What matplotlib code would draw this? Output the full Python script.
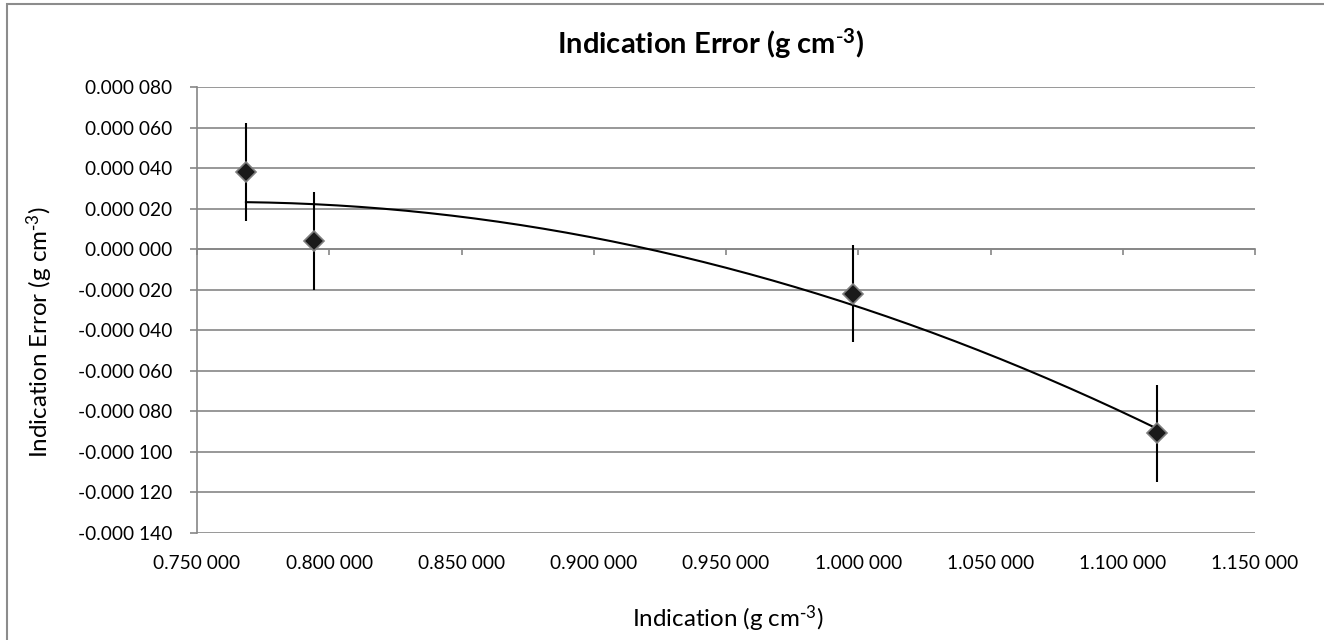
import numpy as np
import matplotlib
matplotlib.use("Agg")
import matplotlib.pyplot as plt
from matplotlib.patches import Rectangle

plt.rcParams['font.family'] = ['Lato', 'DejaVu Sans']
plt.rcParams['mathtext.default'] = 'regular'

# Data
indication = [0.7685, 0.7942, 0.9979, 1.1128]
ind_error = [0.0000382, 0.0000041, -0.0000219, -0.0000909]
uncert = [0.000024, 0.000024, 0.000024, 0.000024]

x_ticks = [0.75, 0.80, 0.85, 0.90, 0.95, 1.00, 1.05, 1.10, 1.15]
x_ticklabels = ['0.750 000', '0.800 000', '0.850 000', '0.900 000', '0.950 000',
                '1.000 000', '1.050 000', '1.100 000', '1.150 000']
y_ticks = [0.00008, 0.00006, 0.00004, 0.00002, 0.0, -0.00002, -0.00004,
           -0.00006, -0.00008, -0.0001, -0.00012, -0.00014]
y_ticklabels = ['0.000 080', '0.000 060', '0.000 040', '0.000 020', '0.000 000',
                '-0.000 020', '-0.000 040', '-0.000 060', '-0.000 080',
                '-0.000 100', '-0.000 120', '-0.000 140']

W, H = 1324, 640
fig = plt.figure(figsize=(W / 100, H / 100), dpi=100)
fig.patch.set_facecolor('white')

# chart border (left/top visible)
fig.patches.append(Rectangle((7 / W, -0.05), 1.2, (H - 4) / H + 0.05,
                             transform=fig.transFigure, fill=False,
                             edgecolor='#8c8c8c', linewidth=1.5))

left, right, top, bottom = 197, 1255, 87.3, 532.7
ax = fig.add_axes([left / W, 1 - bottom / H, (right - left) / W, (bottom - top) / H])

grid_c = '#868686'
ax.set_xlim(0.75, 1.15)
ax.set_ylim(-0.00014, 0.00008)
ax.set_yticks(y_ticks)
ax.set_yticklabels(y_ticklabels)
ax.yaxis.grid(True, color=grid_c, linewidth=1.2)
ax.set_axisbelow(True)

for s in ['top', 'right']:
    ax.spines[s].set_visible(False)
ax.spines['left'].set_color(grid_c)
ax.spines['left'].set_linewidth(1.2)
ax.spines['bottom'].set_position(('data', 0))
ax.spines['bottom'].set_color(grid_c)
ax.spines['bottom'].set_linewidth(1.2)

ax.set_xticks(x_ticks)
ax.tick_params(axis='x', direction='out', length=4.5, width=1.2, color=grid_c,
               labelbottom=False)
ax.tick_params(axis='y', direction='out', length=5, width=1.2, color=grid_c,
               labelsize=13.8, pad=13)

sec = ax.secondary_xaxis(0)
sec.set_xticks(x_ticks)
sec.set_xticklabels(x_ticklabels)
sec.tick_params(length=0, labelsize=13.8, pad=16)
sec.spines['bottom'].set_visible(False)

# error bars and markers
ax.errorbar(indication, ind_error, yerr=uncert, fmt='none', ecolor='black',
            elinewidth=1.5, capsize=0, zorder=3)
ax.plot(indication, ind_error, linestyle='none', marker='D', markersize=10.5,
        markerfacecolor='#1a1a1a', markeredgecolor='#7f7f7f',
        markeredgewidth=1.2, zorder=4)

# polynomial (order 2) trendline
coef = np.polyfit(indication, ind_error, 2)
xs = np.linspace(min(indication), max(indication), 200)
ax.plot(xs, np.polyval(coef, xs), color='black', linewidth=1.5, zorder=3)

unit = r'(g cm$^{\text{-}3}$)'
fig.text(711 / W, 1 - 44 / H, 'Indication Error ' + unit, ha='center',
         va='center', fontsize=21, fontweight='bold')
fig.text(728 / W, 1 - 619 / H, 'Indication ' + unit, ha='center',
         va='center', fontsize=17.4)
fig.text(40 / W, 1 - 332 / H, 'Indication Error ' + unit, ha='center',
         va='center', fontsize=17.4, rotation=90)

fig.savefig('out.png', dpi=100)
